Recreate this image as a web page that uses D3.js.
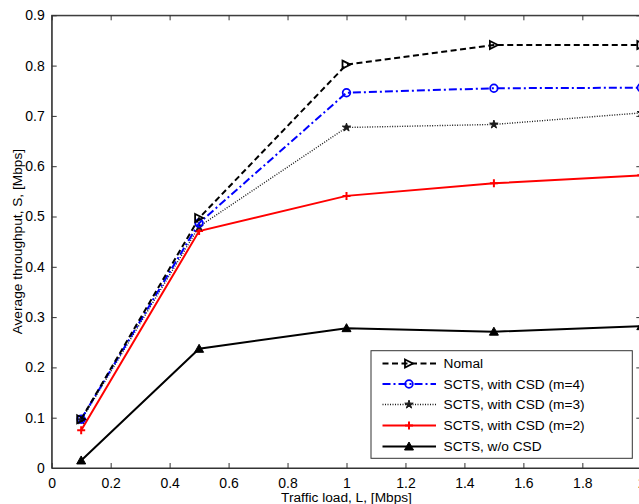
<!DOCTYPE html>
<html>
<head>
<meta charset="utf-8">
<script src="https://cdn.jsdelivr.net/npm/d3@7"></script>
<style>
  html, body { margin: 0; padding: 0; background: #fff; }
  svg { display: block; font-family: "Liberation Sans", Arial, sans-serif; }
</style>
</head>
<body>
<svg id="chart" width="639" height="504"></svg>
<script>
// Offered traffic load (Mbps)
const loads = [0.1, 0.5, 1.0, 1.5, 2.0];

// Average throughput (Mbps) for each scheme
const nomal   = [0.097, 0.497, 0.802, 0.841, 0.841];
const csdM4   = [0.097, 0.487, 0.746, 0.755, 0.756];
const csdM3   = [0.095, 0.480, 0.677, 0.683, 0.706];
const csdM2   = [0.075, 0.471, 0.541, 0.566, 0.582];
const noCsd   = [0.015, 0.237, 0.278, 0.271, 0.282];

const seriesNames = ["Nomal", "SCTS, with CSD (m=4)", "SCTS, with CSD (m=3)", "SCTS, with CSD (m=2)", "SCTS, w/o CSD"];

const xTicks = [0, 0.2, 0.4, 0.6, 0.8, 1, 1.2, 1.4, 1.6, 1.8, 2];
const yTicks = [0, 0.1, 0.2, 0.3, 0.4, 0.5, 0.6, 0.7, 0.8, 0.9];

const xLabel = "Traffic load, L, [Mbps]";
const yLabel = "Average throughput, S, [Mbps]";

const styles = [
  { color: "#000000", dash: "6,3.5",      width: 2,   marker: "triRight" },
  { color: "#0000ff", dash: "8,3,2,3",    width: 2,   marker: "circle" },
  { color: "#1a1a1a", dash: "1,1.5",      width: 1.4, marker: "star" },
  { color: "#ff0000", dash: null,         width: 2,   marker: "plus" },
  { color: "#000000", dash: null,         width: 2,   marker: "triUp" }
];

const series = [nomal, csdM4, csdM3, csdM2, noCsd].map((vals, i) => ({
  name: seriesNames[i],
  style: styles[i],
  points: vals.map((v, j) => ({ x: loads[j], y: v }))
}));

const svg = d3.select("#chart");
const plotLeft = 51.7, plotRight = 641.3, plotTop = 15.3, plotBottom = 468;

const x = d3.scaleLinear().domain([0, 2]).range([plotLeft, plotRight]);
const y = d3.scaleLinear().domain([0, 0.9]).range([plotBottom, plotTop]);

const axisColor = "#333";
const tickLen = 5;

// Plot frame
svg.append("rect")
  .attr("x", plotLeft).attr("y", plotTop)
  .attr("width", plotRight - plotLeft).attr("height", plotBottom - plotTop)
  .attr("fill", "none").attr("stroke", axisColor).attr("stroke-width", 1);

// Axes with inward ticks (bottom/left labelled, top/right mirrored)
const fontSize = 14;
const fmt = d => String(+d.toFixed(1));
const gx = svg.append("g").attr("transform", `translate(0,${plotBottom})`)
  .call(d3.axisBottom(x).tickValues(xTicks).tickSizeInner(-tickLen).tickSizeOuter(0).tickPadding(10).tickFormat(fmt));
const gxTop = svg.append("g").attr("transform", `translate(0,${plotTop})`)
  .call(d3.axisTop(x).tickValues(xTicks).tickSizeInner(-tickLen).tickSizeOuter(0).tickFormat(""));
const gy = svg.append("g").attr("transform", `translate(${plotLeft},0)`)
  .call(d3.axisLeft(y).tickValues(yTicks).tickSizeInner(-tickLen).tickSizeOuter(0).tickPadding(7).tickFormat(fmt));
const gyRight = svg.append("g").attr("transform", `translate(${plotRight},0)`)
  .call(d3.axisRight(y).tickValues(yTicks).tickSizeInner(-tickLen).tickSizeOuter(0).tickFormat(""));

[gx, gxTop, gy, gyRight].forEach(g => {
  g.select(".domain").attr("stroke", axisColor);
  g.selectAll(".tick line").attr("stroke", axisColor);
  g.selectAll(".tick text")
    .attr("fill", "#000")
    .style("font-size", fontSize + "px")
    .style("font-family", "'Liberation Sans', Arial, sans-serif");
});

// Axis titles
svg.append("text")
  .attr("x", x(1)).attr("y", 501.5)
  .attr("text-anchor", "middle")
  .style("font-size", "13.7px")
  .text(xLabel);

svg.append("text")
  .attr("transform", `translate(21.5,${(plotTop + plotBottom) / 2}) rotate(-90)`)
  .attr("text-anchor", "middle")
  .style("font-size", "13.7px")
  .text(yLabel);

// Marker shapes
function drawMarker(g, type, cx, cy, color) {
  const s = 4;
  if (type === "triRight") {
    g.append("path")
      .attr("d", `M${cx - s},${cy - s} L${cx + s},${cy} L${cx - s},${cy + s} Z`)
      .attr("fill", "none").attr("stroke", color).attr("stroke-width", 1.8);
  } else if (type === "circle") {
    g.append("circle").attr("cx", cx).attr("cy", cy).attr("r", 3.8)
      .attr("fill", "none").attr("stroke", color).attr("stroke-width", 1.8);
  } else if (type === "star") {
    g.append("path")
      .attr("d", d3.symbol().type(d3.symbolStar).size(22)())
      .attr("transform", `translate(${cx},${cy})`)
      .attr("fill", color).attr("stroke", color).attr("stroke-width", 1);
  } else if (type === "plus") {
    g.append("path")
      .attr("d", `M${cx - 4},${cy} L${cx + 4},${cy} M${cx},${cy - 4} L${cx},${cy + 4}`)
      .attr("stroke", color).attr("stroke-width", 2);
  } else if (type === "triUp") {
    g.append("path")
      .attr("d", `M${cx},${cy - 4.5} L${cx + 4.5},${cy + 3.5} L${cx - 4.5},${cy + 3.5} Z`)
      .attr("fill", color).attr("stroke", color).attr("stroke-width", 1);
  }
}

const line = d3.line().x(d => x(d.x)).y(d => y(d.y));

const plotG = svg.append("g");
// Draw bottom-most series first so upper curves sit on top
series.slice().reverse().forEach(s => {
  const g = plotG.append("g");
  g.append("path")
    .datum(s.points)
    .attr("d", line)
    .attr("fill", "none")
    .attr("stroke", s.style.color)
    .attr("stroke-width", s.style.width)
    .attr("stroke-dasharray", s.style.dash);
  s.points.forEach(p => drawMarker(g, s.style.marker, x(p.x), y(p.y), s.style.color));
});

// Legend
const lg = svg.append("g");
const lx = 371, ly = 350.7, lw = 261.3, lh = 107.6;
lg.append("rect")
  .attr("x", lx).attr("y", ly).attr("width", lw).attr("height", lh)
  .attr("fill", "#fff").attr("stroke", axisColor).attr("stroke-width", 1);

const rowY = [363.5, 384, 404.5, 425.5, 446.5];
series.forEach((s, i) => {
  const yy = rowY[i];
  lg.append("line")
    .attr("x1", 382.5).attr("x2", 436).attr("y1", yy).attr("y2", yy)
    .attr("stroke", s.style.color)
    .attr("stroke-width", s.style.width)
    .attr("stroke-dasharray", s.style.dash);
  drawMarker(lg, s.style.marker, 409, yy, s.style.color);
  lg.append("text")
    .attr("x", 443.5).attr("y", yy)
    .attr("dy", "0.35em")
    .style("font-size", "13.7px")
    .text(s.name);
});
</script>
</body>
</html>
